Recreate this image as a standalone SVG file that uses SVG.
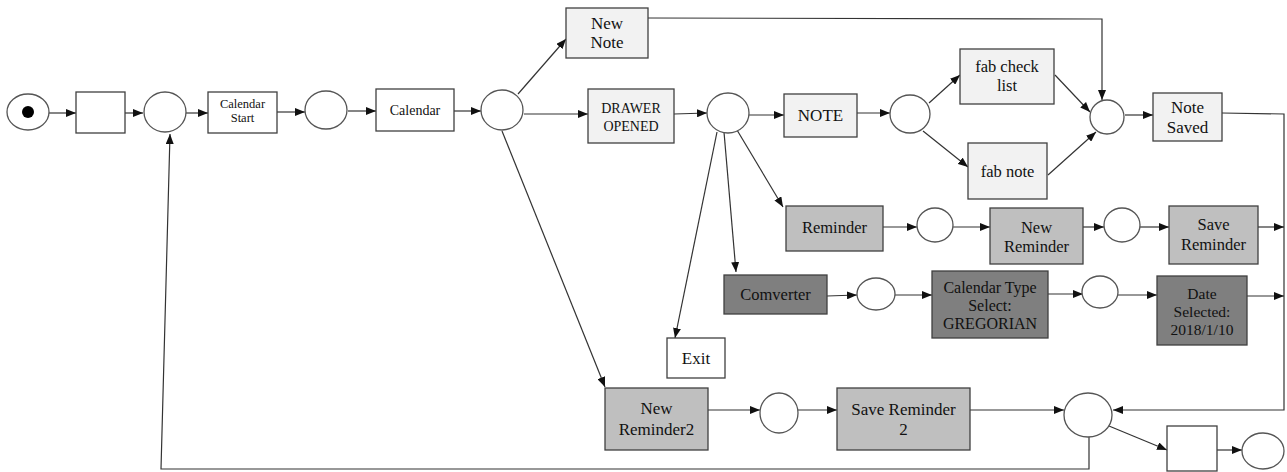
<svg xmlns="http://www.w3.org/2000/svg" width="1287" height="472" viewBox="0 0 1287 472">
<style>
text{font-family:"Liberation Serif","Times New Roman",serif;font-size:16.5px;fill:#111;text-anchor:middle}
.b{stroke:#404040;stroke-width:1.3}
.w{fill:#fff}
.l{fill:#f2f2f2}
.m{fill:#bfbfbf}
.d{fill:#7f7f7f}
.c{fill:#fff;stroke:#555;stroke-width:1.3}
.e{fill:none;stroke:#333;stroke-width:1.2}
</style>
<defs>
<marker id="a" markerUnits="userSpaceOnUse" markerWidth="10" markerHeight="8" refX="10" refY="4" orient="auto">
<path d="M0,0 L10,4 L0,8 z" fill="#111"/>
</marker>
</defs>
<rect x="0" y="0" width="1287" height="472" fill="#fff"/>
<g id="connectors" class="e">
<line x1="49" y1="113" x2="76" y2="113" marker-end="url(#a)"/>
<line x1="125" y1="113" x2="143" y2="113" marker-end="url(#a)"/>
<line x1="186" y1="113" x2="208" y2="113" marker-end="url(#a)"/>
<line x1="277" y1="112" x2="305" y2="112" marker-end="url(#a)"/>
<line x1="348" y1="111" x2="376" y2="111" marker-end="url(#a)"/>
<line x1="454" y1="111" x2="481" y2="111" marker-end="url(#a)"/>
<line x1="518" y1="94" x2="566" y2="39" marker-end="url(#a)"/>
<line x1="524" y1="114" x2="588" y2="114" marker-end="url(#a)"/>
<line x1="502" y1="131" x2="605" y2="387" marker-end="url(#a)"/>
<line x1="674" y1="114" x2="707" y2="113" marker-end="url(#a)"/>
<line x1="749" y1="115" x2="784" y2="115" marker-end="url(#a)"/>
<line x1="857" y1="113" x2="890" y2="113" marker-end="url(#a)"/>
<line x1="717" y1="132" x2="675" y2="338" marker-end="url(#a)"/>
<line x1="724" y1="132" x2="736" y2="272" marker-end="url(#a)"/>
<line x1="737" y1="130" x2="783" y2="207" marker-end="url(#a)"/>
<line x1="929" y1="103" x2="960" y2="75" marker-end="url(#a)"/>
<line x1="923" y1="131" x2="968" y2="167" marker-end="url(#a)"/>
<line x1="1055" y1="75" x2="1090" y2="112" marker-end="url(#a)"/>
<line x1="1048" y1="175" x2="1096" y2="132" marker-end="url(#a)"/>
<polyline points="648,18 1102,19 1102,100" marker-end="url(#a)"/>
<line x1="1125" y1="115" x2="1153" y2="115" marker-end="url(#a)"/>
<polyline points="1222,113 1284,114 1284,410 1113,410" marker-end="url(#a)"/>
<line x1="883" y1="227" x2="917" y2="227" marker-end="url(#a)"/>
<line x1="953" y1="227" x2="990" y2="227" marker-end="url(#a)"/>
<line x1="1083" y1="227" x2="1104" y2="227" marker-end="url(#a)"/>
<line x1="1140" y1="227" x2="1169" y2="227" marker-end="url(#a)"/>
<line x1="1258" y1="227" x2="1284" y2="227" marker-end="url(#a)"/>
<line x1="827" y1="296" x2="857" y2="295" marker-end="url(#a)"/>
<line x1="895" y1="295" x2="932" y2="295" marker-end="url(#a)"/>
<line x1="1048" y1="294" x2="1083" y2="294" marker-end="url(#a)"/>
<line x1="1118" y1="295" x2="1157" y2="295" marker-end="url(#a)"/>
<line x1="1247" y1="296" x2="1284" y2="296" marker-end="url(#a)"/>
<line x1="708" y1="410" x2="760" y2="410" marker-end="url(#a)"/>
<line x1="798" y1="410" x2="837" y2="410" marker-end="url(#a)"/>
<line x1="970" y1="410" x2="1064" y2="410" marker-end="url(#a)"/>
<line x1="1109" y1="426" x2="1167" y2="450" marker-end="url(#a)"/>
<line x1="1217" y1="450" x2="1242" y2="450" marker-end="url(#a)"/>
<polyline points="1089,437 1089,469 161,469 170,134" marker-end="url(#a)"/>
</g>
<g id="start"><ellipse cx="28" cy="112" rx="21" ry="18" class="c"/><circle cx="28" cy="112" r="6" fill="#000"/></g>
<g id="t1"><rect x="76" y="92" width="49" height="41" class="b w"/></g>
<g id="p1"><ellipse cx="165" cy="112" rx="21" ry="20" class="c"/></g>
<g id="calendar-start"><rect x="208" y="92" width="69" height="41" class="b w"/><text x="242.5" y="108" style="font-size:12.5px">Calendar</text><text x="242.5" y="122" style="font-size:12.5px">Start</text></g>
<g id="p2"><ellipse cx="326" cy="110" rx="21" ry="19" class="c"/></g>
<g id="calendar"><rect x="376" y="89" width="78" height="42" class="b w"/><text x="415" y="115" style="font-size:14px">Calendar</text></g>
<g id="p3"><ellipse cx="502" cy="110" rx="21" ry="20" class="c"/></g>
<g id="new-note"><rect x="566" y="8" width="82" height="50" class="b l"/><text x="607" y="29" style="font-size:17px">New</text><text x="607" y="48" style="font-size:17px">Note</text></g>
<g id="drawer-opened"><rect x="588" y="89" width="86" height="54" class="b l"/><text x="631" y="113" style="font-size:14px">DRAWER</text><text x="631" y="131" style="font-size:14px">OPENED</text></g>
<g id="p4"><ellipse cx="728" cy="113" rx="21" ry="20" class="c"/></g>
<g id="note"><rect x="784" y="94" width="73" height="43" class="b l"/><text x="820.5" y="121" style="font-size:17px">NOTE</text></g>
<g id="p5"><ellipse cx="910" cy="114" rx="20" ry="19" class="c"/></g>
<g id="fab-check-list"><rect x="960" y="49" width="94" height="55" class="b l"/><text x="1007" y="72">fab check</text><text x="1007" y="91">list</text></g>
<g id="fab-note"><rect x="968" y="143" width="79" height="56" class="b l"/><text x="1007.5" y="177">fab note</text></g>
<g id="p6"><ellipse cx="1107" cy="117" rx="17" ry="17" class="c"/></g>
<g id="note-saved"><rect x="1153" y="93" width="69" height="48" class="b l"/><text x="1187.5" y="113" style="font-size:17px">Note</text><text x="1187.5" y="133" style="font-size:17px">Saved</text></g>
<g id="reminder"><rect x="786" y="206" width="97" height="45" class="b m"/><text x="834.5" y="233">Reminder</text></g>
<g id="p7"><ellipse cx="935" cy="225" rx="18" ry="17" class="c"/></g>
<g id="new-reminder"><rect x="990" y="208" width="93" height="56" class="b m"/><text x="1036.5" y="233">New</text><text x="1036.5" y="252">Reminder</text></g>
<g id="p8"><ellipse cx="1122" cy="225" rx="18" ry="17" class="c"/></g>
<g id="save-reminder"><rect x="1169" y="206" width="89" height="58" class="b m"/><text x="1213.5" y="230">Save</text><text x="1213.5" y="250">Reminder</text></g>
<g id="comverter"><rect x="724" y="275" width="103" height="39" class="b d"/><text x="775.5" y="300">Comverter</text></g>
<g id="p9"><ellipse cx="876" cy="294" rx="19" ry="16" class="c"/></g>
<g id="calendar-type"><rect x="932" y="271" width="116" height="67" class="b d"/><text x="990" y="293" style="font-size:16px">Calendar Type</text><text x="990" y="311" style="font-size:16px">Select:</text><text x="990" y="329" style="font-size:16px">GREGORIAN</text></g>
<g id="p10"><ellipse cx="1100" cy="292" rx="18" ry="16" class="c"/></g>
<g id="date-selected"><rect x="1157" y="276" width="90" height="69" class="b d"/><text x="1202" y="299" style="font-size:15.5px">Date</text><text x="1202" y="317" style="font-size:15.5px">Selected:</text><text x="1202" y="335" style="font-size:15.5px">2018/1/10</text></g>
<g id="exit"><rect x="667" y="338" width="58" height="40" class="b w"/><text x="696" y="364" style="font-size:17px">Exit</text></g>
<g id="new-reminder2"><rect x="605" y="388" width="103" height="62" class="b m"/><text x="656.5" y="414" style="font-size:17px">New</text><text x="656.5" y="435" style="font-size:17px">Reminder2</text></g>
<g id="p11"><ellipse cx="779" cy="413" rx="19" ry="20" class="c"/></g>
<g id="save-reminder2"><rect x="837" y="388" width="133" height="62" class="b m"/><text x="903.5" y="415" style="font-size:17px">Save Reminder</text><text x="903.5" y="435" style="font-size:17px">2</text></g>
<g id="p12"><ellipse cx="1088" cy="415" rx="24" ry="22" class="c"/></g>
<g id="t-end"><rect x="1167" y="426" width="50" height="45" class="b w"/></g>
<g id="end"><ellipse cx="1263" cy="451" rx="21" ry="18" class="c"/></g>
</svg>
